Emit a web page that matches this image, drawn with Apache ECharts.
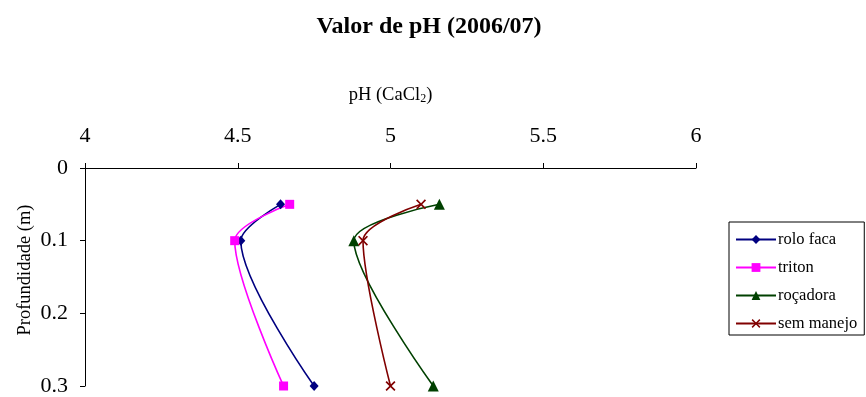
<!DOCTYPE html>
<html>
<head>
<meta charset="utf-8">
<script src="https://cdn.jsdelivr.net/npm/echarts@6/dist/echarts.min.js"></script>
<style>
  html, body { margin: 0; padding: 0; background: #fff; }
  #chart { width: 866px; height: 397px; }
</style>
</head>
<body>
<div id="chart"></div>
<script>
// Depth (m) of each sampling layer
const depths = [0.05, 0.1, 0.3];

// pH (CaCl2) per management system, one value per depth
const roloFaca = [4.64, 4.51, 4.75];
const triton = [4.67, 4.49, 4.65];
const rocadora = [5.16, 4.88, 5.14];
const semManejo = [5.10, 4.91, 5.00];

const seriesNames = ['rolo faca', 'triton', 'roçadora', 'sem manejo'];
const depthTicks = [0, 0.1, 0.2, 0.3];

const serif = '"Liberation Serif", "DejaVu Serif", serif';

// thin filled "x" marker
const crossPath = 'path://M0,1.2 L1.2,0 L5,3.8 L8.8,0 L10,1.2 L6.2,5 L10,8.8 L8.8,10 L5,6.2 L1.2,10 L0,8.8 L3.8,5 Z';

function pairs(values) {
  return values.map((v, i) => [v, depths[i]]);
}

function lineSeries(name, values, color, symbol, size) {
  return {
    name: name,
    type: 'line',
    data: pairs(values),
    smooth: 0.3,
    symbol: symbol,
    symbolSize: size,
    showAllSymbol: true,
    lineStyle: { color: color, width: 1.6 },
    itemStyle: { color: color },
    emphasis: { disabled: true },
    z: 3
  };
}

const chart = echarts.init(document.getElementById('chart'), null, { renderer: 'canvas' });

chart.setOption({
  animation: false,
  backgroundColor: '#ffffff',
  title: {
    text: 'Valor de pH (2006/07)',
    left: 424,
    textAlign: 'center',
    top: 10,
    textStyle: { fontFamily: serif, fontWeight: 'bold', fontSize: 24, color: '#000' }
  },
  legend: {
    orient: 'vertical',
    left: 729,
    top: 222,
    data: seriesNames,
    itemWidth: 40,
    itemHeight: 11,
    itemGap: 11,
    padding: [9, 7, 3, 6],
    borderColor: '#000',
    borderWidth: 1,
    textStyle: { fontFamily: serif, fontSize: 16.5, color: '#000', padding: [0, 0, 0, -3] }
  },
  grid: { left: 85, right: 170, top: 168, bottom: 10.5, containLabel: false },
  xAxis: {
    type: 'value',
    position: 'top',
    min: 4,
    max: 6,
    interval: 0.5,
    name: 'pH (CaCl{sub|2})',
    nameLocation: 'middle',
    nameGap: 63,
    nameMoveOverlap: false,
    nameTextStyle: {
      fontFamily: serif, fontSize: 18.5, color: '#000',
      rich: { sub: { fontFamily: serif, fontSize: 12, color: '#000', verticalAlign: 'bottom', padding: [7, 0, 0, 0] } }
    },
    axisLine: { show: true, onZero: false, lineStyle: { color: '#000', width: 1 } },
    axisTick: { show: true, inside: false, length: 5, lineStyle: { color: '#000' } },
    axisLabel: { fontFamily: serif, fontSize: 22, color: '#000', margin: 21 },
    splitLine: { show: false }
  },
  yAxis: {
    type: 'value',
    inverse: true,
    min: 0,
    max: 0.3,
    interval: 0.1,
    name: 'Profundidade (m)',
    nameLocation: 'middle',
    nameGap: 50,
    nameMoveOverlap: false,
    nameTextStyle: { fontFamily: serif, fontSize: 18.5, color: '#000', padding: [0, 0, 0, 14] },
    axisLine: { show: true, onZero: false, lineStyle: { color: '#000', width: 1 } },
    axisTick: { show: true, inside: false, length: 5, lineStyle: { color: '#000' } },
    axisLabel: {
      fontFamily: serif, fontSize: 22, color: '#000', margin: 17,
      formatter: function (v) {
        const t = depthTicks.find(d => Math.abs(d - v) < 1e-9);
        return t === undefined ? '' : String(t);
      }
    },
    splitLine: { show: false }
  },
  series: [
    lineSeries(seriesNames[0], roloFaca, '#000080', 'diamond', [9, 10]),
    lineSeries(seriesNames[1], triton, '#ff00ff', 'rect', 9),
    lineSeries(seriesNames[2], rocadora, '#004000', 'triangle', 11),
    lineSeries(seriesNames[3], semManejo, '#800000', crossPath, 10)
  ]
});
</script>
</body>
</html>
